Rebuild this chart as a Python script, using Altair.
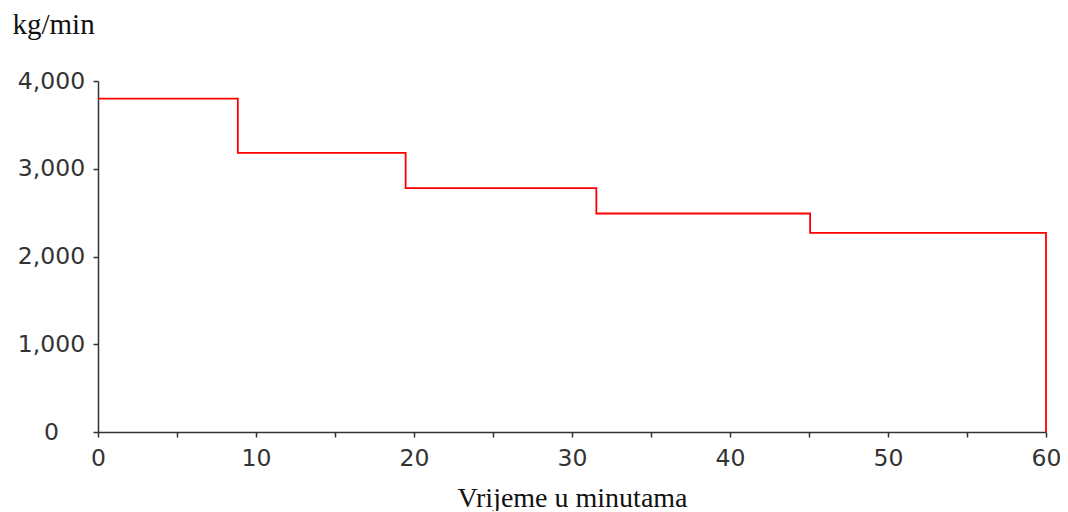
import altair as alt
import pandas as pd

minutes = [0, 8.85, 19.47, 31.54, 45.07, 60, 60]
rate = [3800, 3180, 2780, 2490, 2270, 2270, 0]
x_ticks = [0, 5, 10, 15, 20, 25, 30, 35, 40, 45, 50, 55, 60]
y_ticks = [0, 1000, 2000, 3000, 4000]

df = pd.DataFrame({"t": minutes, "v": rate, "o": list(range(len(minutes)))})

chart = alt.Chart(df).mark_line(
    interpolate="step-after", color="#ff0000", strokeWidth=1.8
).encode(
    x=alt.X("t:Q", scale=alt.Scale(domain=[0, 60], nice=False),
            axis=alt.Axis(
                values=x_ticks, title="Vrijeme u minutama",
                labelExpr="datum.value % 10 == 0 ? format(datum.value, 'd') : ''",
                labelFlush=False, labelOverlap=False,
                grid=False, tickSize=5, labelPadding=9,
                labelFont="DejaVu Sans", labelFontSize=23.5, labelColor="#333333",
                domainColor="#333333", tickColor="#333333", domainWidth=1.5, tickWidth=1.5,
                titleFont="Liberation Serif", titleFontSize=28, titleFontWeight="normal",
                titleColor="#111111", titleBaseline="alphabetic", titleY=74,
            )),
    y=alt.Y("v:Q", scale=alt.Scale(domain=[0, 4000], nice=False),
            axis=alt.Axis(
                values=y_ticks, title="kg/min",
                labelExpr="format(datum.value, ',')",
                labelFlush=False, labelOverlap=False,
                grid=False, tickSize=5, labelPadding=42, labelAlign="center",
                labelFont="DejaVu Sans", labelFontSize=23.5, labelColor="#333333",
                domainColor="#333333", tickColor="#333333", domainWidth=1.5, tickWidth=1.5,
                titleFont="Liberation Serif", titleFontSize=29, titleFontWeight="normal",
                titleColor="#111111", titleAngle=0, titleAlign="left",
                titleBaseline="alphabetic", titleX=-86, titleY=-48,
            )),
    order="o:Q",
).properties(
    width=948, height=351,
    background="white",
    autosize=alt.AutoSizeParams(type="none"),
    padding={"left": 90, "top": 73, "right": 14, "bottom": 79},
).configure_view(stroke=None)

chart.save("out.html", embed_options={"renderer": "svg", "actions": False})
